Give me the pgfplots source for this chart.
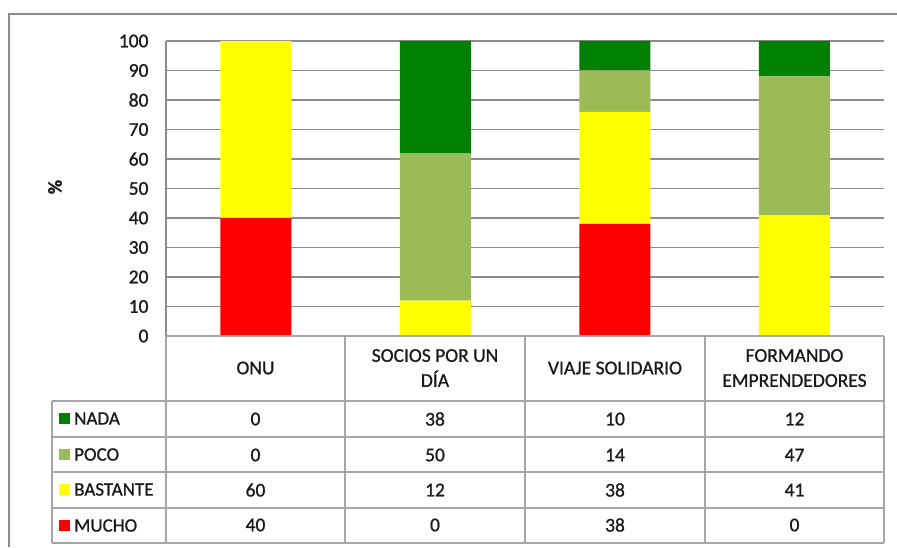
\documentclass[border=0pt]{standalone}
\usepackage{fontspec}
\setmainfont{Carlito}[FakeBold=0.9]
\usepackage{pgfplots}
\pgfplotsset{compat=1.18}
\definecolor{nada}{HTML}{008000}
\definecolor{poco}{HTML}{9BBB59}
\definecolor{bastante}{HTML}{FFFF00}
\definecolor{mucho}{HTML}{FF0000}
\definecolor{gridc}{HTML}{8C8C8C}
\definecolor{tabc}{HTML}{A6A6A6}
\definecolor{txt}{HTML}{1A1A1A}
\begin{document}
\begin{tikzpicture}[x=1pt,y=1pt,font=\fontsize{19.5}{25}\selectfont,text=txt]
\path[use as bounding box,fill=white] (0,0) rectangle (897,547);
% outer frame
\draw[gridc,line width=2pt] (9,0) -- (9,533) -- (897,533);
\begin{axis}[
  at={(166pt,211pt)}, anchor=south west,
  scale only axis, width=718pt, height=295pt,
  xmin=-0.5, xmax=3.5, ymin=0, ymax=100,
  ybar stacked, bar width=71pt,
  axis line style={draw=none},
  xtick=\empty,
  ytick={0,10,...,100},
  ymajorgrids, grid style={gridc,line width=1.2pt},
  major tick length=0pt,
  /pgf/number format/assume math mode=true,
  yticklabel style={font=\fontsize{19.5}{25}\selectfont,text=txt,xshift=-14pt},
  clip=false,
]
\addplot[fill=mucho,draw=none] coordinates {(0,40) (1,0) (2,38) (3,0)};
\addplot[fill=bastante,draw=none] coordinates {(0,60) (1,12) (2,38) (3,41)};
\addplot[fill=poco,draw=none] coordinates {(0,0) (1,50) (2,14) (3,47)};
\addplot[fill=nada,draw=none] coordinates {(0,0) (1,38) (2,10) (3,12)};
\end{axis}
% left axis line
\draw[gridc,line width=1.2pt] (166,506) -- (166,211);
% table
\begin{scope}[tabc,line width=1.3pt]
\draw (166,211) -- (884,211);
\draw (52,146) -- (884,146);
\draw (52,110) -- (884,110);
\draw (52,75) -- (884,75);
\draw (52,39) -- (884,39);
\draw (52,4) -- (884,4);
\draw (52,146) -- (52,4);
\draw (166,211) -- (166,4);
\draw (345,211) -- (345,4);
\draw (525,211) -- (525,4);
\draw (705,211) -- (705,4);
\draw (884,211) -- (884,4);
\end{scope}
\node[rotate=90,font=\fontsize{19.5}{25}\selectfont\bfseries] at (55,360) {\%};
% headers
\node[align=center] at (255.5,179) {ONU};
\node[align=center] at (435,179) {SOCIOS POR UN\\DÍA};
\node[align=center] at (615,179) {VIAJE SOLIDARIO};
\node[align=center] at (794.5,179) {FORMANDO\\EMPRENDEDORES};
% legend column
\begin{scope}[every node/.style={anchor=west,inner sep=0,font=\fontsize{19}{25}\selectfont}]
\fill[nada] (59,123) rectangle (70,134);
\node at (74,128.5) {NADA};
\fill[poco] (59,87) rectangle (70,98);
\node at (74,92.5) {POCO};
\fill[bastante] (59,52) rectangle (70,63);
\node at (74,57.5) {BASTANTE};
\fill[mucho] (59,16) rectangle (70,27);
\node at (74,21.5) {MUCHO};
\end{scope}
% values
\node at (255.5,128) {0};   \node at (435,128) {38}; \node at (615,128) {10}; \node at (794.5,128) {12};
\node at (255.5,92) {0};    \node at (435,92) {50};  \node at (615,92) {14};  \node at (794.5,92) {47};
\node at (255.5,57) {60};   \node at (435,57) {12};  \node at (615,57) {38};  \node at (794.5,57) {41};
\node at (255.5,22) {40};   \node at (435,22) {0};   \node at (615,22) {38};  \node at (794.5,22) {0};
\end{tikzpicture}
\end{document}
